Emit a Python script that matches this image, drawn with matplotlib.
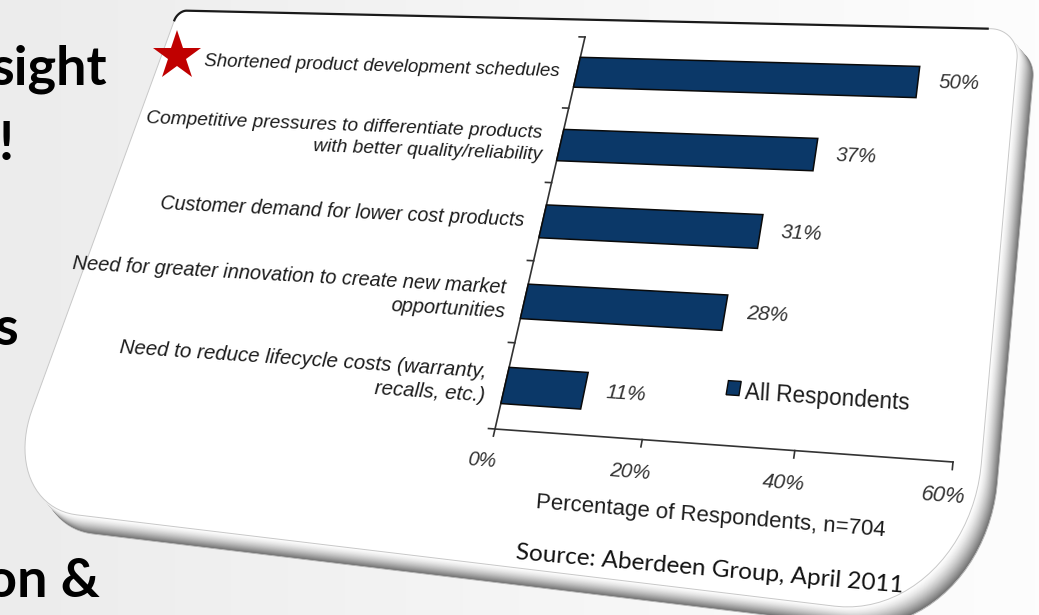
import numpy as np
import matplotlib
matplotlib.use("Agg")
import matplotlib.pyplot as plt
from matplotlib.transforms import Transform, Affine2D
from matplotlib.patches import Polygon
from matplotlib.colors import LinearSegmentedColormap

# survey: drivers for improving product development (top to bottom)
drivers = [
    "Shortened product development schedules",
    "Competitive pressures to differentiate products\nwith better quality/reliability",
    "Customer demand for lower cost products",
    "Need for greater innovation to create new market\nopportunities",
    "Need to reduce lifecycle costs (warranty,\nrecalls, etc.)",
]
respondents = [50, 37, 31, 28, 11]
x_ticks = [0, 20, 40, 60]
x_tick_labels = ["0%", "20%", "40%", "60%"]
series_name = "All Respondents"
x_title = "Percentage of Respondents, n=704"
source_note = "Source: Aberdeen Group, April 2011"

# bits of the slide text that show at the left edge
slide_text = ["sight", "!", "s", "on &"]
slide_right = [107, 14, 18, 100]
slide_base = [85, 160, 345, 597]

W, H = 1039, 615
NAVY = "#0b3868"


class Homography(Transform):
    """Projective map of display points, used to lay the chart on a tilted card."""
    input_dims = output_dims = 2
    is_separable = False

    def __init__(self, M):
        super().__init__()
        self.M = np.asarray(M, float)

    def transform_non_affine(self, xy):
        xy = np.asarray(xy, float)
        p = np.column_stack([xy, np.ones(len(xy))]) @ self.M.T
        return p[:, :2] / p[:, 2:3]


def fit_homography(src, dst):
    A, b = [], []
    for (x, y), (u, v) in zip(src, dst):
        A.append([x, y, 1, 0, 0, 0, -u * x, -u * y])
        b.append(u)
        A.append([0, 0, 0, x, y, 1, -v * x, -v * y])
        b.append(v)
    h = np.linalg.solve(np.array(A, float), np.array(b, float))
    return np.append(h, 1).reshape(3, 3)


def arc(cx, cy, rx, ry, a0, a1, n=24):
    t = np.linspace(a0, a1, n)
    return np.column_stack([cx + rx * np.cos(t), cy + ry * np.sin(t)])


def rounded_rect(x0, x1, y0, y1, radii):
    (a, b), (c, d), (e, f), (g, h) = radii
    q = np.pi / 2
    return np.vstack([arc(x0 + a, y0 + b, a, b, 2 * q, 3 * q),
                      arc(x1 - c, y0 + d, c, d, 3 * q, 4 * q),
                      arc(x1 - e, y1 - f, e, f, 0, q),
                      arc(x0 + g, y1 - h, g, h, q, 2 * q)])


fig = plt.figure(figsize=(W / 100, H / 100), dpi=100)

# slide background
bg = fig.add_axes([0, 0, 1, 1])
bg.set_xlim(0, W)
bg.set_ylim(H, 0)
bg.axis("off")
shade = LinearSegmentedColormap.from_list("slide", ["#ececec", "#f5f5f5", "#fdfdfd"])
bg.imshow(np.linspace(0, 1, 256)[None, :], extent=[0, W, H, 0], aspect="auto",
          cmap=shade, zorder=0)

# chart axes, warped onto the card
ax = fig.add_axes([0, 0, 1, 1])
ax.set_xlim(0, 60)
ax.set_ylim(0, 5)
ax.axis("off")

corners = [(0, 0), (60, 0), (0, 5), (60, 5)]
img_pts = [(495, 429), (953, 462), (585, 37), (993, 47)]
src = ax.transData.transform(corners)
dst = [(u, H - v) for u, v in img_pts]
plane = ax.transData + Homography(fit_homography(src, dst))


def along(x, y):
    p0, p1 = plane.transform(np.array([(x, y), (x + 1, y)], float))
    d = p1 - p0
    return np.degrees(np.arctan2(d[1], d[0])), np.hypot(*d)


def plane_text(x, y, s, k, **kw):
    ang, scale = along(x, y)
    return ax.text(x, y, s, transform=plane, rotation=ang, rotation_mode="anchor",
                   fontsize=k * scale, clip_on=False, **kw)


# card with a shaded edge; its lower edge rises a little toward the left
cx0, cx1, cy0, cy1 = -67, 63.5, -1.6, 5.25
card = rounded_rect(cx0, cx1, cy0, cy1,
                    [(12, 1.4), (16, 1.6), (4, 0.4), (1.5, 0.15)])
lift = 0.32 * (cx1 - card[:, 0]) / (cx1 - cx0) * np.clip(card[:, 1] / cy0, 0, 1)
card[:, 1] += lift
n_layers = 30
for k in range(n_layers, 0, -1):
    f = k / n_layers
    grey = 1 - 0.56 * f ** 1.5
    off = Affine2D().translate(16 * f, -19 * f)
    ax.add_patch(Polygon(card, closed=True, facecolor=str(grey),
                         edgecolor="#b5b5b5" if k == n_layers else "none",
                         lw=0.8, transform=plane + off, zorder=1, clip_on=False))
ax.add_patch(Polygon(card, closed=True, facecolor="white", edgecolor="#c8c8c8",
                     lw=0.7, transform=plane, zorder=2, clip_on=False))
# dark rim along the top edge
rim = np.vstack([arc(cx0 + 1.5, cy1 - 0.15, 1.5, 0.15, np.pi, np.pi / 2),
                 [(59, cy1)]])
ax.plot(rim[:, 0], rim[:, 1], color="#1a1a1a", lw=1.6,
        transform=plane, zorder=3, clip_on=False)

# bars
y_pos = np.arange(len(drivers))[::-1] + 0.5
bars = ax.barh(y_pos, respondents, height=0.42, color=NAVY,
               edgecolor="#0a0a0a", linewidth=1.1, zorder=4)
for b in bars:
    b.set_transform(plane)
    b.set_clip_on(False)

# axis lines and ticks
ax.plot([0, 0], [0, 5], color="#333333", lw=1.2, transform=plane, zorder=3)
ax.plot([0, 60], [0, 0], color="#333333", lw=1.2, transform=plane, zorder=3)
for yt in range(6):
    ax.plot([-0.9, 0], [yt, yt], color="#333333", lw=1.2, transform=plane, zorder=3)
for xt in x_ticks:
    ax.plot([xt, xt], [0, -0.08], color="#333333", lw=1.2, transform=plane, zorder=3)

# category labels and values
for yc, label, val in zip(y_pos, drivers, respondents):
    plane_text(-2.7, yc, label, 2.07, ha="right", va="center", multialignment="right",
               family="Liberation Sans", style="italic", color="#1c1c1c",
               linespacing=1.35, zorder=5)
    plane_text(val + 2.9, yc, f"{val}%", 2.05, ha="left", va="center",
               family="Liberation Sans", style="italic", color="#333333", zorder=5)

for xt, lab in zip(x_ticks, x_tick_labels):
    plane_text(xt - 0.8, -0.36, lab, 1.95, ha="center", va="center",
               family="Liberation Sans", style="italic", color="#333333", zorder=5)

# legend
sq = np.array([(30.0, 0.56), (31.7, 0.56), (31.7, 0.72), (30.0, 0.72)])
ax.add_patch(Polygon(sq, closed=True, facecolor=NAVY, edgecolor="#0a0a0a", lw=1.0,
                     transform=plane, zorder=5, clip_on=False))
plane_text(32.4, 0.60, series_name, 2.15, ha="left", va="center",
           family="Liberation Sans", color="#1c1c1c", zorder=5)

plane_text(30.6, -0.77, x_title, 2.05, ha="center", va="center",
           family="Liberation Sans", color="#1c1c1c", zorder=5)
plane_text(31.5, -1.3, source_note, 2.2, ha="center", va="center",
           family="Lato", color="#111111", zorder=5)

# slide text and the red star, over the card
for s, xr, yb in zip(slide_text, slide_right, slide_base):
    ax.text(xr, yb, s, ha="right", va="baseline", fontsize=39, fontweight="bold",
            family="Lato", color="black", transform=bg.transData, zorder=6)
ax.plot(177, 56, marker="*", markersize=37, color="#c00000", markeredgewidth=0,
        transform=bg.transData, zorder=6, clip_on=False)

fig.savefig("out.png", dpi=100)
